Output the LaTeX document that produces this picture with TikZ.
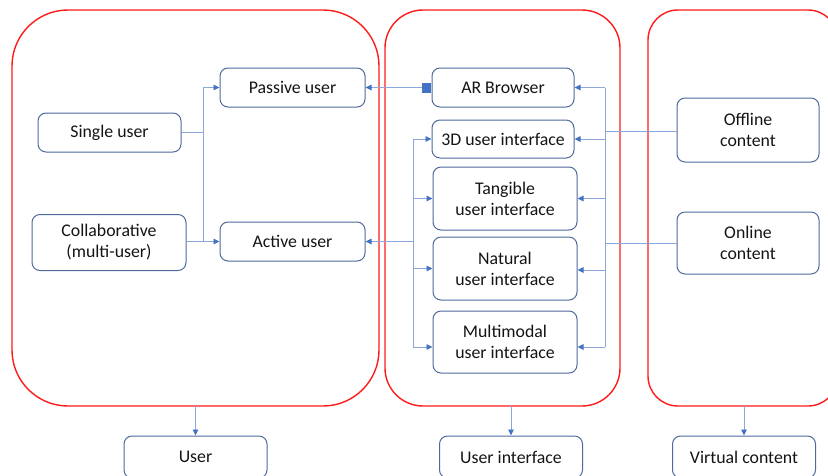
\documentclass[tikz,border=0pt]{standalone}
\usepackage{fontspec}
\setmainfont{Carlito}
\usetikzlibrary{arrows.meta,calc}
\definecolor{frame}{HTML}{FF1A1A}
\definecolor{edge}{HTML}{4F6A9C}
\definecolor{link}{HTML}{8CA8DA}
\definecolor{tip}{HTML}{4472C4}
\definecolor{ink}{HTML}{141414}
\tikzset{
  group/.style={draw=frame, line width=1.4pt, fill=none},
  box/.style={draw=edge, line width=1pt, rounded corners=8pt, align=center,
    text=ink, inner sep=0pt, font=\fontsize{17.8}{21}\selectfont},
  conn/.style={draw=link, line width=0.9pt},
  arr/.style={conn, -{Triangle[length=6pt,width=5.5pt,color=tip]}},
}
\begin{document}
\begin{tikzpicture}[x=1pt,y=-1pt]
\useasboundingbox (0,0) rectangle (828,475);

% grouping frames
\draw[group, rounded corners=56pt] (12,10) rectangle (379,406);
\draw[group, rounded corners=38pt] (385,10) rectangle (620,406);
\draw[group, rounded corners=30pt] (648,10) rectangle (838,406);
\coordinate (gUser) at (195.5,406);
\coordinate (gUI) at (511,406);
\coordinate (gVC) at (744,406);

% user side
\node[box, minimum width=143pt, minimum height=39pt] (single) at (109.5,132.5) {Single user};
\node[box, minimum width=154pt, minimum height=56pt] (collab) at (109,242.5) {Collaborative\\(multi-user)};
\node[box, minimum width=145pt, minimum height=39pt] (passive) at (292.5,87.5) {Passive user};
\node[box, minimum width=145pt, minimum height=39pt] (active) at (292.5,241.5) {Active user};

% user interface side
\node[box, minimum width=142pt, minimum height=39pt] (ar) at (503,87.5) {AR Browser};
\node[box, minimum width=142pt, minimum height=38pt] (ui3d) at (503,139) {3D user interface};
\node[box, minimum width=144pt, minimum height=63pt] (tang) at (505,198.5) {Tangible\\user interface};
\node[box, minimum width=144pt, minimum height=63pt] (nat) at (505,268.5) {Natural\\user interface};
\node[box, minimum width=144pt, minimum height=62pt] (mm) at (505,342) {Multimodal\\user interface};

% virtual content side
\node[box, minimum width=142pt, minimum height=64pt] (offline) at (748,130) {Offline\\content};
\node[box, minimum width=142pt, minimum height=62pt] (online) at (748,243) {Online\\content};

% category labels
\node[box, minimum width=143pt, minimum height=42pt] (user) at (195.5,457) {User};
\node[box, minimum width=143pt, minimum height=42pt] (uibox) at (511,457) {User interface};
\node[box, minimum width=143pt, minimum height=42pt] (vc) at (744,457) {Virtual content};

% user -> passive / active
\coordinate (lbTop) at (203,87.5);
\coordinate (lbBot) at (203,241.5);
\draw[conn] (single.east) -- (single.east -| lbTop);
\draw[conn] (collab.east |- lbBot) -- (lbBot);
\draw[conn] (lbTop) -- (lbBot);
\draw[arr] (lbTop) -- (passive.west);
\draw[arr] (lbBot) -- (active.west);

% AR browser -> passive user
\node[fill=tip, minimum width=9pt, minimum height=10pt, inner sep=0pt, anchor=east] (sq) at (ar.west) {};
\draw[arr] (sq.west) -- (passive.east);

% interface bus -> active user
\coordinate (mbTop) at (413,139);
\coordinate (mbBot) at (413,347);
\draw[conn] (mbTop) -- (mbBot);
\draw[arr] (mbTop |- active.east) -- (active.east);
\draw[arr] (mbTop) -- (ui3d.west);
\draw[arr] (mbTop |- tang.west) -- (tang.west);
\draw[arr] (mbTop |- nat.west) -- (nat.west);
\draw[arr] (mbBot) -- (mbBot -| mm.west);

% content bus -> interfaces
\coordinate (rbTop) at (605,87.5);
\coordinate (rbBot) at (605,347);
\draw[conn] (rbTop) -- (rbBot);
\draw[conn] (offline.west |- 0,131) -- (rbTop |- 0,131);
\draw[conn] (online.west) -- (rbTop |- online.west);
\draw[arr] (rbTop) -- (ar.east);
\draw[arr] (rbTop |- ui3d.east) -- (ui3d.east);
\draw[arr] (rbTop |- tang.east) -- (tang.east);
\draw[arr] (rbTop |- 0,270) -- (nat.east |- 0,270);
\draw[arr] (rbBot) -- (rbBot -| mm.east);

% frames -> category labels
\draw[arr] (gUser) -- (user.north);
\draw[arr] (gUI) -- (uibox.north);
\draw[arr] (gVC) -- (vc.north);
\end{tikzpicture}
\end{document}
